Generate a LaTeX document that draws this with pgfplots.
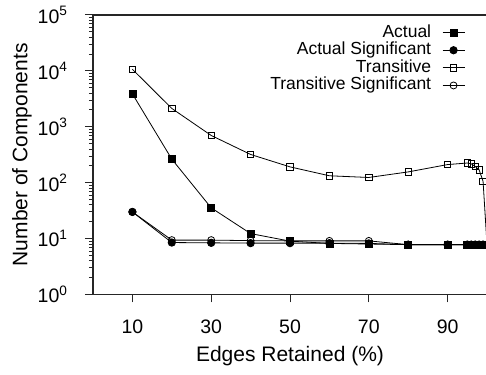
\documentclass[border=0pt]{standalone}
\usepackage{pgfplots}
\pgfplotsset{compat=1.18}
\usepackage{fontspec}
\setmainfont{Liberation Sans}
\begin{document}
\begin{tikzpicture}
\begin{axis}[
  name=ax,
  scale only axis, width=394pt, height=279.5pt,
  xmin=0, xmax=100, ymin=1, ymax=1e5, ymode=log,
  /pgf/number format/assume math mode=true,
  xtick={10,30,50,70,90},
  ytick={1,10,100,1000,10000,100000},
  yticklabels={10\textsuperscript{0},10\textsuperscript{1},10\textsuperscript{2},10\textsuperscript{3},10\textsuperscript{4},10\textsuperscript{5}},
  minor ytick={2,3,4,5,6,7,8,9,20,30,40,50,60,70,80,90,200,300,400,500,600,700,800,900,2000,3000,4000,5000,6000,7000,8000,9000,20000,30000,40000,50000,60000,70000,80000,90000},
  tick align=outside, xtick pos=bottom, ytick pos=left,
  major tick length=8pt, minor tick length=4pt,
  axis line style={line width=1.5pt, black!85},
  tick style={line width=1pt, black!85},
  tick label style={font=\fontsize{19.5}{23}\selectfont},
  xticklabel style={yshift=-14pt},
  yticklabel style={xshift=-14pt},
  xlabel={Edges Retained (\%)},
  ylabel={Number of Components},
  every axis y label/.style={at={(axis description cs:-0.1802,0.5)}, rotate=90, anchor=center, font=\fontsize{21}{25}\selectfont},
  every axis x label/.style={at={(axis description cs:0.5,-0.2200)}, anchor=center, font=\fontsize{21}{25}\selectfont},
  legend style={at={(rel axis cs:0.944,0.966)}, anchor=north east, draw=none, fill=none,
    inner sep=0pt, outer sep=0pt, font=\fontsize{17.5}{18}\selectfont, row sep=1.3pt, column sep=11pt,
    nodes={inner sep=0pt, text height=12.6pt, text depth=3.7pt}},
  legend cell align=right, legend plot pos=right,
  legend image code/.code={\draw[mark repeat=2,mark phase=2,#1] plot coordinates {(0pt,0pt) (11pt,0pt) (22pt,0pt)};},
]
\addplot[black, line width=0.8pt, mark=square*, mark size=3.5pt] coordinates {
(10,3880)(20,264)(30,35.5)(40,12.3)(50,9.0)(60,8.2)(70,8.0)(80,7.8)(90,7.8)(95,7.8)(96,7.8)(97,7.8)(98,7.8)(99,7.8)(100,7.8)};
\addlegendentry{Actual}
\addplot[black, line width=0.8pt, mark=*, mark size=3.7pt] coordinates {
(10,30)(20,8.5)(30,8.4)(40,8.3)(50,8.3)(60,8.3)(70,8.2)(80,7.8)(90,7.8)(95,7.8)(96,7.8)(97,7.8)(98,7.8)(99,7.8)(100,7.8)};
\addlegendentry{Actual Significant}
\addplot[black, line width=0.8pt, mark=square, mark size=3.2pt, mark options={fill=none}] coordinates {
(10,10700)(20,2130)(30,700)(40,320)(50,192)(60,133)(70,124)(80,156)(90,211)(95,225)(96,218)(97,195)(98,170)(99,106)(100,7.8)};
\addlegendentry{Transitive}
\addplot[black, line width=0.8pt, mark=o, mark size=3.5pt, mark options={fill=none}] coordinates {
(10,30)(20,9.4)(30,9.4)(40,9.2)(50,9.1)(60,9.1)(70,9.1)(80,7.8)(90,7.8)(95,7.8)(96,7.8)(97,7.8)(98,7.8)(99,7.8)(100,7.8)};
\addlegendentry{Transitive Significant}
\end{axis}
\pgfresetboundingbox
\path[use as bounding box] ([xshift=-93pt,yshift=-79.5pt]ax.south west) rectangle ([xshift=393pt,yshift=15pt]ax.north west);
\end{tikzpicture}
\end{document}
